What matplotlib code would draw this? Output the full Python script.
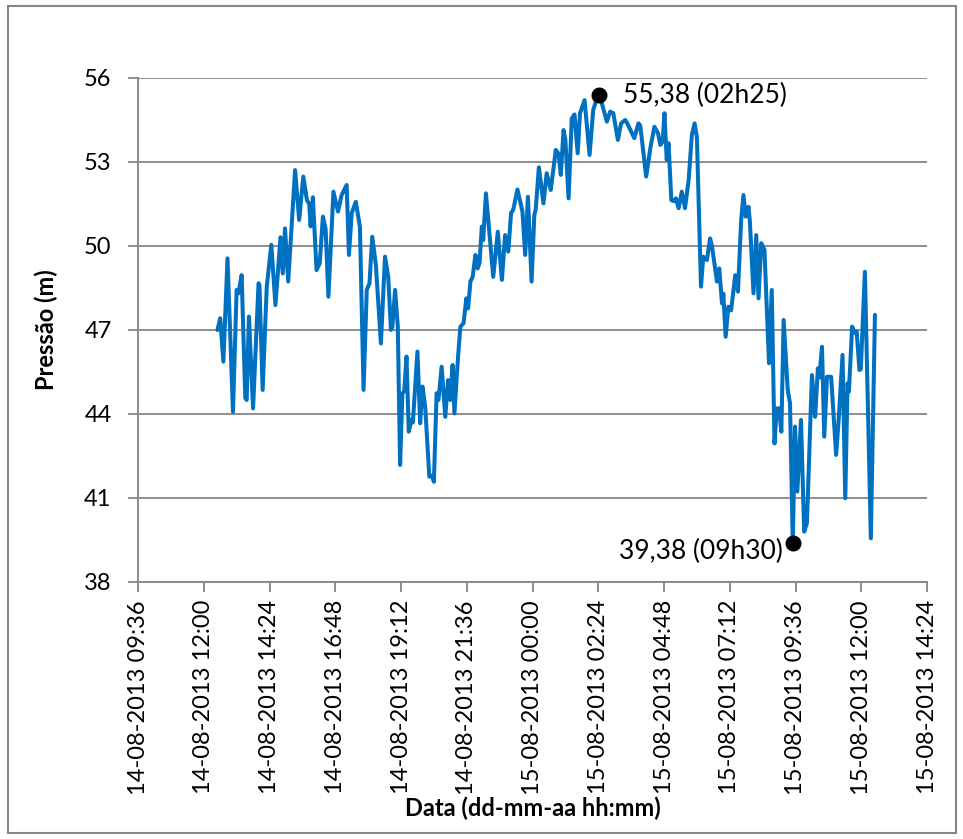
import datetime as dt

import matplotlib
matplotlib.use("Agg")
import matplotlib.pyplot as plt
import matplotlib.dates as mdates
from matplotlib.patches import Rectangle

plt.rcParams["font.family"] = ["Lato", "DejaVu Sans"]

# pressure log, minutes after the first reading (14-08-2013 12:30)
START = dt.datetime(2013, 8, 14, 12, 30)
MINUTES = [
    0, 6, 13, 22, 34, 42, 46, 53, 61, 64, 69, 78, 90, 92, 99, 108, 118, 127,
    138, 143, 148, 155, 170, 179, 188, 196, 201, 204, 209, 217, 224, 231, 237,
    243, 254, 264, 272, 283, 288, 294, 303, 312, 320, 327, 333, 339, 347, 358,
    367, 374, 380, 383, 389, 395, 400, 405, 409, 414, 419, 425, 428, 438, 444,
    449, 455, 464, 470, 474, 480, 484, 491, 499, 505, 510, 515, 519, 527, 532,
    539, 545, 549, 554, 559, 565, 570, 574, 579, 582, 588, 595, 604, 614, 623,
    630, 637, 643, 648, 657, 668, 674, 680, 688, 694, 697, 704, 714, 721, 730,
    741, 747, 752, 758, 762, 769, 776, 782, 789, 794, 804, 815, 823, 831, 835,
    840, 853, 860, 867, 877, 884, 893, 897, 913, 922, 926, 939, 948, 957, 965,
    970, 975, 979, 984, 988, 994, 999, 1004, 1010, 1017, 1024, 1032, 1039,
    1045, 1050, 1059, 1064, 1072, 1079, 1083, 1094, 1099, 1105, 1108, 1113,
    1119, 1125, 1134, 1140, 1147, 1152, 1157, 1163, 1166, 1174, 1180, 1185,
    1191, 1198, 1208, 1214, 1220, 1225, 1230, 1235, 1240, 1249, 1254, 1260,
    1265, 1270, 1278, 1285, 1291, 1302, 1309, 1315, 1318, 1324, 1329, 1335,
    1344, 1355, 1361, 1369, 1375, 1380, 1383, 1390, 1396, 1400, 1406, 1409,
    1418, 1431, 1440,
]
PRESSURE = [
    47.0, 47.42, 45.87, 49.56, 44.08, 48.43, 48.31, 48.96, 44.56, 44.5, 47.48,
    44.2, 48.67, 48.6, 44.86, 48.55, 50.04, 47.89, 50.31, 49.02, 50.63, 48.73,
    52.71, 50.93, 52.48, 51.64, 51.5, 50.7, 51.74, 49.14, 49.38, 51.05, 50.6,
    48.19, 51.94, 51.23, 51.82, 52.18, 49.68, 51.17, 51.58, 50.69, 44.86,
    48.43, 48.67, 50.33, 49.32, 46.52, 49.62, 48.9, 47.0, 47.1, 48.43, 47.12,
    42.18, 44.74, 44.8, 46.05, 43.37, 43.79, 43.7, 46.23, 43.67, 44.98, 44.26,
    41.76, 41.8, 41.58, 44.74, 44.5, 45.69, 43.9, 45.21, 44.5, 45.75, 44.02,
    46.05, 47.12, 47.24, 48.13, 47.77, 48.73, 48.9, 49.68, 49.2, 49.4, 50.69,
    50.21, 51.88, 50.57, 48.9, 50.51, 48.79, 50.39, 49.8, 51.17, 51.3, 52.02,
    51.23, 49.68, 51.76, 48.73, 51.11, 51.3, 52.81, 51.52, 52.6, 52.0, 53.43,
    53.3, 52.54, 54.14, 53.8, 51.7, 54.56, 54.7, 53.31, 54.74, 55.21, 53.25,
    54.86, 55.27, 55.38, 55.2, 54.44, 54.8, 54.74, 53.79, 54.38, 54.5, 54.4,
    53.85, 54.38, 54.3, 52.48, 53.49, 54.26, 54.02, 53.61, 53.73, 54.74,
    53.07, 53.67, 51.64, 51.6, 51.7, 51.35, 51.94, 51.35, 52.36, 53.96, 54.38,
    53.9, 48.55, 49.62, 49.5, 50.27, 50.0, 48.73, 49.2, 47.95, 48.3, 46.76,
    47.83, 47.7, 48.96, 48.37, 50.93, 51.82, 51.05, 51.4, 50.9, 48.31, 50.39,
    48.13, 50.1, 49.86, 45.81, 48.43, 42.95, 44.2, 44.2, 43.37, 47.36, 44.86,
    44.38, 39.38, 43.55, 41.23, 43.79, 39.8, 40.1, 45.39, 43.9, 45.63, 45.3,
    46.4, 43.19, 45.33, 45.33, 42.54, 43.9, 46.11, 40.99, 45.1, 44.8, 47.12,
    46.9, 46.94, 45.57, 45.6, 49.08, 39.56, 47.54,
]
Y_TICKS = [38, 41, 44, 47, 50, 53, 56]

GRID = "#868686"
BLUE = "#0070C0"
FS = 17

times = [START + dt.timedelta(minutes=m) for m in MINUTES]

fig = plt.figure(figsize=(9.63, 8.39), dpi=100)
fig.patches.append(Rectangle((8 / 963, 1 - 833 / 839), 948 / 963, 827 / 839,
                             transform=fig.transFigure, fill=False,
                             edgecolor=GRID, lw=1.5))
ax = fig.add_axes([138 / 963, 1 - 582 / 839, 789 / 963, 504 / 839])

ax.plot(times, PRESSURE, color=BLUE, lw=2.9, solid_joinstyle="round",
        solid_capstyle="round", zorder=3)

# max / min markers with their labels
i_max = PRESSURE.index(max(PRESSURE))
i_min = PRESSURE.index(min(PRESSURE))
for i, dx, dy, ha in [(i_max, 24, 0, "left"), (i_min, -10, -8, "right")]:
    ax.plot(times[i], PRESSURE[i], "o", color="black", ms=10.5, zorder=4)
    label = f"{PRESSURE[i]:.2f}".replace(".", ",") + times[i].strftime(" (%Hh%M)")
    ax.annotate(label, (times[i], PRESSURE[i]), xytext=(dx * 0.72, dy * 0.72),
                textcoords="offset points", ha=ha, va="center", fontsize=19)

x0 = dt.datetime(2013, 8, 14, 9, 36)
step = dt.timedelta(hours=2, minutes=24)
xticks = [x0 + k * step for k in range(13)]
ax.set_xlim(xticks[0], xticks[-1])
ax.set_xticks(xticks)
ax.xaxis.set_major_formatter(mdates.DateFormatter("%d-%m-%Y %H:%M"))
ax.set_ylim(38, 56)
ax.set_yticks(Y_TICKS)

ax.grid(axis="y", color=GRID, lw=1.3)
ax.set_axisbelow(True)
for side in ("top", "right"):
    ax.spines[side].set_visible(False)
for side in ("left", "bottom"):
    ax.spines[side].set_color(GRID)
    ax.spines[side].set_linewidth(1.3)
ax.tick_params(axis="both", direction="out", length=7, width=1.3,
               color=GRID, labelsize=FS, pad=6)
ax.tick_params(axis="y", pad=12)
plt.setp(ax.get_xticklabels(), rotation=90)

ax.set_ylabel("Pressão (m)", fontsize=FS, fontweight="bold", labelpad=19)
ax.set_xlabel("Data (dd-mm-aa hh:mm)", fontsize=FS, fontweight="bold", labelpad=1)

fig.savefig("out.png", dpi=100)
